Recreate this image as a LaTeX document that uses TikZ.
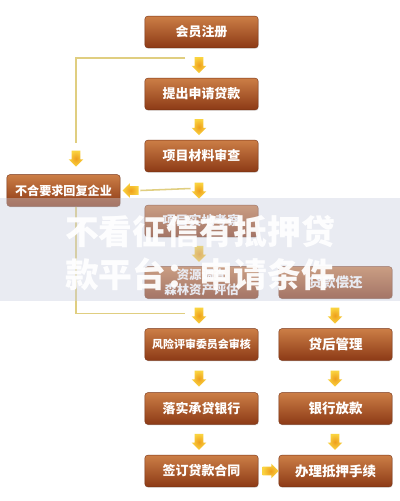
\documentclass[tikz,border=0pt]{standalone}
\usepackage{fontspec}
\newfontfamily\cjk{Noto Sans CJK SC}
\usetikzlibrary{positioning,calc,shapes.arrows,shadows}
\definecolor{boxtop}{RGB}{204,126,70}
\definecolor{boxbot}{RGB}{140,58,22}
\definecolor{arrowin}{RGB}{238,158,28}
\definecolor{arrowout}{RGB}{250,212,64}
\definecolor{feed}{RGB}{224,206,128}
\definecolor{band}{RGB}{200,206,224}

\begin{document}
\begin{tikzpicture}[x=0.025cm,y=-0.025cm,
    every node/.style={font=\cjk\bfseries},
    stepbox/.style={rounded corners=2pt,minimum width=2.83cm,minimum height=0.79cm,
      top color=boxtop,bottom color=boxbot,draw=boxbot!85!black,line width=0.3pt,
      text=white,font=\cjk\bfseries\fontsize{9.2}{11}\selectfont,align=center,
      drop shadow={opacity=0.2,shadow xshift=0.4pt,shadow yshift=-0.7pt}},
    darr/.style={single arrow,draw=none,inner sep=0.1cm,minimum height=0.4cm,
      single arrow head extend=0.075cm,inner color=arrowin,outer color=arrowout},
    feedline/.style={draw=feed,line width=1.1pt}]
    \fill[white] (0,0) rectangle (400,501);

    % main column
    \node[stepbox] (reg) at (201.5,32) {会员注册};
    \node[stepbox] (apply) at (201.5,94) {提出申请贷款};
    \node[stepbox] (check) at (201.5,156) {项目材料审查};
    \node[stepbox] (visit) at (201.5,221) {项目实地考察};
    \node[stepbox,inner sep=1pt,font=\cjk\bfseries\fontsize{8.8}{11.2}\selectfont] (assess) at (201.5,282.5) {资源调查\\森林资产评估};
    \node[stepbox,font=\cjk\bfseries\fontsize{7.8}{9}\selectfont] (risk) at (201.5,344.5) {风险评审委员会审核};
    \node[stepbox] (bank) at (201.5,408.5) {落实承贷银行};
    \node[stepbox] (sign) at (201.5,471) {签订贷款合同};

    % second column
    \node[stepbox,font=\cjk\bfseries\fontsize{9.6}{11}\selectfont] (mortgage) at (335.5,471) {办理抵押手续};
    \node[stepbox,font=\cjk\bfseries\fontsize{9.6}{11}\selectfont] (lend) at (335.5,408.5) {银行放款};
    \node[stepbox,font=\cjk\bfseries\fontsize{9.6}{11}\selectfont] (manage) at (335.5,344.5) {贷后管理};
    \node[stepbox,font=\cjk\bfseries\fontsize{9.6}{11}\selectfont] (repay) at (335.5,282.5) {贷款偿还};

    % rejected
    \node[stepbox,font=\cjk\bfseries\fontsize{8.6}{10}\selectfont] (reject) at (63.5,190.5) {不合要求回复企业};

    % block arrows
    \node[darr,rotate=-90] (a1) at ($(reg.south)!.5!(apply.north)+(-2.5,0)$) {};
    \node[darr,rotate=-90] (a2) at ($(apply.south)!.5!(check.north)+(-2.5,0)$) {};
    \node[darr,rotate=-90] (a3) at ($(check.south)!.5!(visit.north)+(-2.5,0)$) {};
    \node[darr,rotate=-90] (a4) at ($(visit.south)!.5!(assess.north)+(-2.5,0)$) {};
    \node[darr,rotate=-90] (a5) at ($(assess.south)!.5!(risk.north)+(-2.5,0)$) {};
    \node[darr,rotate=-90] (a6) at ($(risk.south)!.5!(bank.north)+(-2.5,0)$) {};
    \node[darr,rotate=-90] (a7) at ($(bank.south)!.5!(sign.north)+(-2.5,0)$) {};
    \node[darr,rotate=-90] (b1) at ($(repay.south)!.5!(manage.north)+(-0.5,0)$) {};
    \node[darr,rotate=-90] (b2) at ($(manage.south)!.5!(lend.north)+(-0.5,0)$) {};
    \node[darr,rotate=-90] (b3) at ($(lend.south)!.5!(mortgage.north)+(-0.5,0)$) {};
    \node[darr] (c1) at ($(sign.east)!.5!(mortgage.west)$) {};
    \node[darr,rotate=-90] (r1) at ($(reject.north)+(12.5,-18)$) {};
    \node[darr,rotate=180] (r2) at ($(reject.east)+(12.5,0)$) {};

    % feedback lines
    \draw[feedline] ($(a1.center)+(-14,-5)$) -| ($(r1.center)+(0,-13)$);
    \draw[feedline] ($(a3.center)+(-8.5,0)$) -- ($(r2.center)+(7.5,0)$);
    \draw[feedline] (reject.south -| r1.center) |- ($(a5.center)+(-14,0)$);

    % watermark band
    \fill[band,opacity=0.4] (0,198) rectangle (400,301);
    \node[text=white,opacity=0.95,align=center,font=\cjk\bfseries\fontsize{24}{30.6}\selectfont] (mark) at (200,253.5) {不看征信有抵押贷\\款平台：申请条件};
\end{tikzpicture}
\end{document}
